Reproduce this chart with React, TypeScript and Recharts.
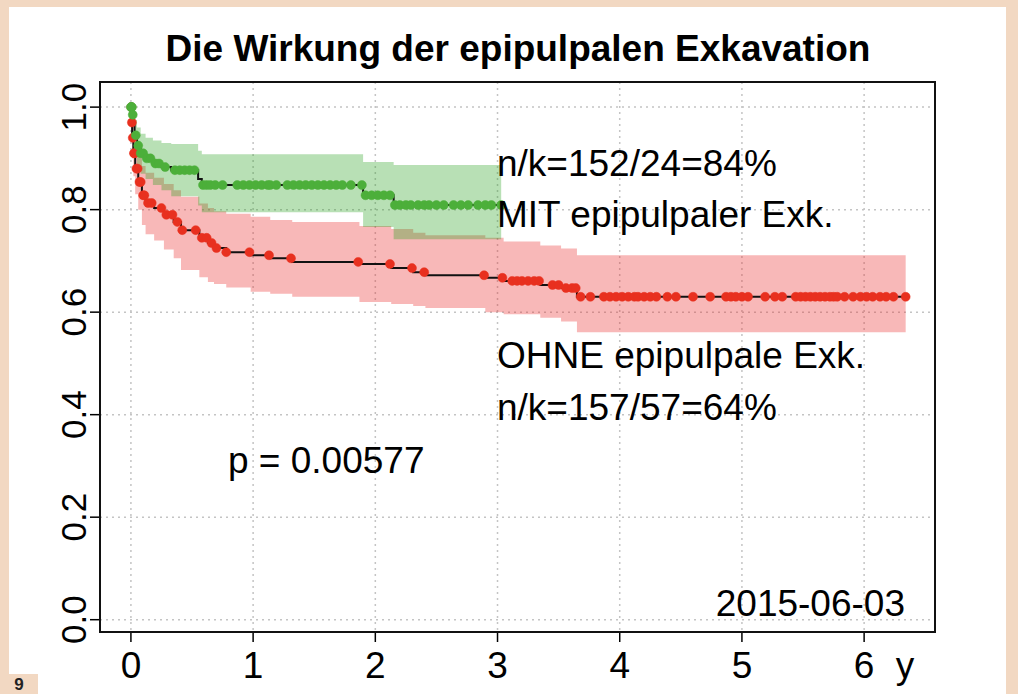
import { ComposedChart, Area, Line, Scatter, XAxis, YAxis, CartesianGrid } from 'recharts'

// Kaplan-Meier Stufen: [Zeit (Jahre), Überleben, untere Grenze, obere Grenze]
const mitSteps: [number, number, number, number][] = [
  [0, 1.0, 1.0, 1.0],
  [0.01, 0.985, 0.965, 1.0],
  [0.02, 0.965, 0.935, 0.99],
  [0.03, 0.945, 0.91, 0.975],
  [0.05, 0.925, 0.885, 0.96],
  [0.08, 0.91, 0.87, 0.948],
  [0.12, 0.9, 0.86, 0.94],
  [0.18, 0.89, 0.848, 0.935],
  [0.25, 0.883, 0.838, 0.93],
  [0.33, 0.877, 0.826, 0.928],
  [0.55, 0.86, 0.808, 0.915],
  [0.58, 0.848, 0.795, 0.908],
  [1.9, 0.828, 0.766, 0.893],
  [2.15, 0.809, 0.742, 0.887],
  [3.03, 0.809, 0.742, 0.887],
]

const ohneSteps: [number, number, number, number][] = [
  [0, 1.0, 1.0, 1.0],
  [0.005, 0.97, 0.94, 0.995],
  [0.01, 0.94, 0.9, 0.975],
  [0.02, 0.91, 0.865, 0.95],
  [0.035, 0.88, 0.83, 0.925],
  [0.06, 0.854, 0.8, 0.905],
  [0.09, 0.828, 0.77, 0.885],
  [0.12, 0.813, 0.752, 0.872],
  [0.19, 0.803, 0.74, 0.862],
  [0.27, 0.79, 0.722, 0.85],
  [0.35, 0.776, 0.705, 0.838],
  [0.41, 0.76, 0.682, 0.825],
  [0.56, 0.745, 0.668, 0.812],
  [0.63, 0.735, 0.659, 0.803],
  [0.68, 0.725, 0.655, 0.797],
  [0.78, 0.717, 0.648, 0.792],
  [0.98, 0.711, 0.64, 0.786],
  [1.14, 0.705, 0.636, 0.78],
  [1.32, 0.698, 0.63, 0.776],
  [1.87, 0.694, 0.62, 0.768],
  [2.13, 0.686, 0.616, 0.762],
  [2.31, 0.678, 0.612, 0.755],
  [2.41, 0.672, 0.608, 0.75],
  [2.9, 0.667, 0.6, 0.745],
  [3.05, 0.661, 0.596, 0.738],
  [3.35, 0.653, 0.589, 0.73],
  [3.52, 0.647, 0.582, 0.724],
  [3.65, 0.63, 0.561, 0.711],
  [6.34, 0.63, 0.561, 0.711],
]

// zensierte Beobachtungen (Zeitpunkte)
const mitCensor = [
  0, 0.004, 0.008, 0.015, 0.04, 0.06, 0.08, 0.1, 0.13, 0.16, 0.2, 0.23, 0.28, 0.36, 0.4, 0.44, 0.48, 0.52,
  0.59, 0.62, 0.65, 0.69, 0.75, 0.87, 0.92, 0.97, 1.02, 1.07, 1.12, 1.14, 1.19, 1.28, 1.33, 1.38, 1.43,
  1.48, 1.53, 1.58, 1.63, 1.68, 1.73, 1.8, 1.89, 1.92, 1.97, 2.02, 2.07, 2.12, 2.16, 2.2, 2.25, 2.29,
  2.35, 2.4, 2.44, 2.5, 2.56, 2.64, 2.7, 2.76, 2.84, 2.9, 2.95, 3.03,
]

const ohneCensor = [
  0.003, 0.008, 0.015, 0.025, 0.03, 0.045, 0.055, 0.07, 0.08, 0.1, 0.11, 0.14, 0.17, 0.25, 0.29, 0.34,
  0.38, 0.42, 0.53, 0.58, 0.62, 0.66, 0.7, 0.78, 0.97, 1.13, 1.31, 1.86, 2.12, 2.3, 2.4, 2.89, 3.04,
  3.12, 3.16, 3.2, 3.25, 3.3, 3.34, 3.45, 3.5, 3.56, 3.61, 3.64, 3.68, 3.76, 3.87, 3.92, 3.97, 4.02,
  4.07, 4.12, 4.15, 4.2, 4.25, 4.3, 4.39, 4.46, 4.6, 4.74, 4.87, 4.91, 4.95, 5.0, 5.05, 5.19, 5.27,
  5.33, 5.44, 5.48, 5.52, 5.56, 5.6, 5.64, 5.68, 5.72, 5.75, 5.78, 5.84, 5.91, 5.97, 6.02, 6.07, 6.13,
  6.18, 6.24, 6.34,
]

const xTicks = [0, 1, 2, 3, 4, 5, 6]
const yTicks = [0, 0.2, 0.4, 0.6, 0.8, 1.0]

const W = 1018
const H = 694
const FONT = '"Liberation Sans", Arial, Helvetica, sans-serif'
const BEIGE = '#f2d8c2'

const toRows = (steps: [number, number, number, number][]) =>
  steps.map(([t, s, lo, hi]) => ({ t, s, lo, hi }))

// Überleben zum Zeitpunkt t ablesen (Stufenfunktion)
const survAt = (steps: [number, number, number, number][], t: number) => {
  let s = steps[0][1]
  for (const st of steps) if (st[0] <= t) s = st[1]
  return s
}

const mitRows = toRows(mitSteps)
const ohneRows = toRows(ohneSteps)
const mitDots = mitCensor.map(t => ({ t, s: survAt(mitSteps, t) }))
const ohneDots = ohneCensor.map(t => ({ t, s: survAt(ohneSteps, t) }))

const dot = (color: string) => (p: any) => (
  <circle cx={p.cx} cy={p.cy} r={4.5} fill={color} stroke={color} strokeWidth={0.5} />
)

const YTick = ({ x, y, payload }: any) => {
  const bx = x - 2
  return (
    <text
      x={bx}
      y={y}
      transform={`rotate(-90 ${bx} ${y})`}
      textAnchor="middle"
      fontSize={35}
      fontFamily={FONT}
      fill="#000"
    >
      {payload.value.toFixed(1)}
    </text>
  )
}

export default function App() {
  return (
    <div style={{ position: 'fixed', left: 0, top: 0, width: W, height: H, background: BEIGE, overflow: 'hidden' }}>
      <div style={{ position: 'absolute', left: 9, top: 7, width: 997, height: 687, background: '#fff' }} />
      <div
        style={{
          position: 'absolute', left: 0, top: 674, width: 38, height: 20, background: BEIGE,
          fontFamily: FONT, fontWeight: 'bold', fontSize: 17, lineHeight: '22px', textAlign: 'center', color: '#222',
        }}
      >
        9
      </div>

      <div style={{ position: 'absolute', left: 0, top: 0 }}>
        <ComposedChart width={W} height={H} margin={{ top: 82, right: 83, bottom: 2, left: 40 }}>
          <CartesianGrid stroke="#c4c4c4" strokeDasharray="2 4" strokeWidth={1.5} />
          <XAxis
            dataKey="t"
            type="number"
            domain={[-0.253, 6.58]}
            ticks={xTicks}
            allowDataOverflow
            height={60}
            axisLine={false}
            tickLine={{ stroke: '#000', strokeWidth: 1.5 }}
            tickSize={10}
            tickMargin={10}
            tick={{ fontSize: 37, fontFamily: FONT, fill: '#000' }}
          />
          <YAxis
            type="number"
            domain={[-0.024, 1.049]}
            ticks={yTicks}
            allowDataOverflow
            width={60}
            axisLine={false}
            tickLine={{ stroke: '#000', strokeWidth: 1.5 }}
            tickSize={10}
            tick={<YTick />}
          />
          <Area
            data={ohneRows}
            dataKey={(d: any) => [d.lo, d.hi]}
            type="stepAfter"
            stroke="none"
            fill="#eb2828"
            fillOpacity={0.33}
            isAnimationActive={false}
          />
          <Area
            data={mitRows}
            dataKey={(d: any) => [d.lo, d.hi]}
            type="stepAfter"
            stroke="none"
            fill="#28a01e"
            fillOpacity={0.33}
            isAnimationActive={false}
          />
          <Line data={ohneRows} dataKey="s" type="stepAfter" stroke="#111" strokeWidth={2} dot={false} isAnimationActive={false} />
          <Line data={mitRows} dataKey="s" type="stepAfter" stroke="#111" strokeWidth={2} dot={false} isAnimationActive={false} />
          <Scatter data={ohneDots} dataKey="s" shape={dot('#e8301f')} isAnimationActive={false} />
          <Scatter data={mitDots} dataKey="s" shape={dot('#4caf3a')} isAnimationActive={false} />
        </ComposedChart>
      </div>

      {/* Rahmen der Zeichenfläche */}
      <div
        style={{
          position: 'absolute', left: 99, top: 81, width: 837, height: 552,
          border: '2px solid #111', boxSizing: 'border-box', pointerEvents: 'none',
        }}
      />

      <svg width={W} height={H} style={{ position: 'absolute', left: 0, top: 0, pointerEvents: 'none' }} fontFamily={FONT}>
        <text x={518} y={61} textAnchor="middle" fontSize={37} fontWeight="bold" fill="#000">
          Die Wirkung der epipulpalen Exkavation
        </text>
        <text x={497} y={176} fontSize={37} fill="#000">n/k=152/24=84%</text>
        <text x={497} y={227} fontSize={37} fill="#000">MIT epipulpaler Exk.</text>
        <text x={497} y={368} fontSize={37} fill="#000">OHNE epipulpale Exk.</text>
        <text x={497} y={420} fontSize={37} fill="#000">n/k=157/57=64%</text>
        <text x={228} y={473} fontSize={37} fill="#000">p = 0.00577</text>
        <text x={905} y={616} textAnchor="end" fontSize={37} fill="#000">2015-06-03</text>
        <text x={905} y={678} textAnchor="middle" fontSize={37} fill="#000">y</text>
      </svg>
    </div>
  )
}
